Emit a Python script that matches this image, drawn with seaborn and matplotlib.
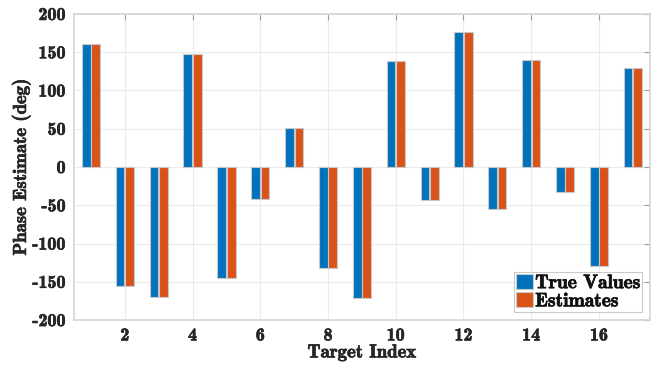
import matplotlib
matplotlib.use("Agg")
import matplotlib.pyplot as plt
import matplotlib.patheffects as pe
import seaborn as sns
import pandas as pd
import numpy as np

targets = list(range(1, 18))
true_values = [161, -155, -170, 148, -145, -42, 51, -132, -171, 138, -43, 176, -55, 140, -33, -129, 130]
estimates = [161, -155, -170, 148, -145, -42, 51, -132, -171, 138, -43, 176, -55, 140, -33, -129, 130]
series_names = ["True Values", "Estimates"]
xtick_labels = [2, 4, 6, 8, 10, 12, 14, 16]
ytick_values = [-200, -150, -100, -50, 0, 50, 100, 150, 200]

df = pd.DataFrame({
    "Target": targets * 2,
    "Value": true_values + estimates,
    "Series": [series_names[0]] * len(targets) + [series_names[1]] * len(targets),
})

sns.set_style("white")
plt.rcParams['font.family'] = ['cmb10', 'DejaVu Serif']
plt.rcParams['axes.unicode_minus'] = False

fig = plt.figure(figsize=(6.55, 3.67), dpi=100)
ax = fig.add_axes([0.113, 0.128, 0.879, 0.834])

sns.barplot(data=df, x="Target", y="Value", hue="Series", order=targets,
            hue_order=series_names, palette=["#0072BD", "#D95319"],
            width=0.56, gap=0.08, edgecolor="#c8c8c8", linewidth=0.8,
            ax=ax, errorbar=None, saturation=1)

ax.set_xlim(-0.5, len(targets) - 0.5)
ax.set_ylim(-200, 200)
ax.set_xticks([targets.index(t) for t in xtick_labels])
ax.set_xticklabels([str(t) for t in xtick_labels])
ax.set_yticks(ytick_values)
ax.set_yticklabels([str(v) for v in ytick_values])

ax.grid(True, color="#ebebeb", linewidth=0.8)
ax.set_axisbelow(True)
for s in ax.spines.values():
    s.set_color("#d6d6d6")
    s.set_linewidth(1.2)
ax.tick_params(direction="in", length=4, color="#9a9a9a", top=True, right=True,
               labelsize=13, pad=6, labelcolor="#262626")

bold = [pe.withStroke(linewidth=0.5, foreground="#262626")]
ax.set_xlabel("Target Index", fontsize=13.5, labelpad=0, color="#262626")
ax.set_ylabel("Phase Estimate (deg)", fontsize=13.5, labelpad=1, color="#262626")
ax.xaxis.label.set_path_effects(bold)
ax.yaxis.label.set_path_effects(bold)
for t in ax.get_xticklabels() + ax.get_yticklabels():
    t.set_path_effects(bold)

leg = ax.legend(loc="lower right", fontsize=14, frameon=True, fancybox=False,
                borderpad=0.1, handlelength=0.9, handleheight=0.8,
                handletextpad=0.1, labelspacing=0.0, borderaxespad=0.4)
leg.get_frame().set_edgecolor("#bdbdbd")
leg.get_frame().set_linewidth(0.8)
for t in leg.get_texts():
    t.set_color("#111111")
    t.set_path_effects([pe.withStroke(linewidth=0.5, foreground="#111111")])

fig.savefig("out.png", dpi=100)
